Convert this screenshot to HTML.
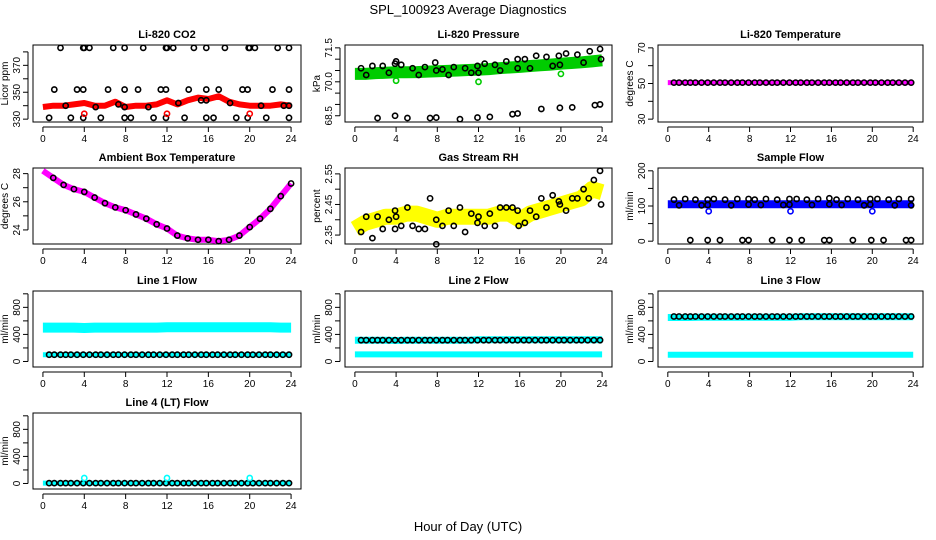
<!DOCTYPE html>
<html><head><meta charset="utf-8"><style>
html,body{margin:0;padding:0;background:#fff;}
svg{display:block;font-family:"Liberation Sans",Arial,sans-serif;}
</style></head><body>
<svg id="chart" width="936" height="540" viewBox="0 0 936 540">
<text x="468" y="14" text-anchor="middle" font-size="13">SPL_100923  Average Diagnostics</text>
<text x="468" y="531" text-anchor="middle" font-size="13">Hour of Day (UTC)</text>
</svg>
<script>
// ---- data ----
const hours = [0,1,2,3,4,5,6,7,8,9,10,11,12,13,14,15,16,17,18,19,20,21,22,23,24];
const xTicks = [0,4,8,12,16,20,24];
const circleHours = [0.6,1.1,1.7,2.2,2.7,3.3,3.9,4.5,5.1,5.6,6.2,6.8,7.3,7.9,8.5,9.0,9.6,10.2,10.7,11.3,11.9,12.5,13.0,13.6,14.1,14.7,15.3,15.8,16.4,16.9,17.5,18.1,18.6,19.2,19.8,20.3,20.9,21.5,22.0,22.6,23.2,23.8];

const co2Band = [339,340,340,341,342,340,340,343,339,340,340,341,344,341,344,346,345,347,343,341,340,340,340,341,340];
const co2TopH = [1.7,3.9,4.0,4.5,6.8,7.9,9.7,11.9,12.0,12.6,14.6,15.8,17.6,19.9,20.0,20.5,22.7,23.8];
const co2MidH = [1.1,3.3,3.9,6.3,7.9,9.2,11.4,11.9,14.1,15.8,17.0,19.3,19.8,22.2,23.8];
const co2LowH = [0.6,2.7,3.9,5.6,7.9,8.5,10.7,11.9,13.7,15.8,16.5,18.7,19.8,21.6,23.8];
const co2InH = [2.2,5.1,7.3,7.9,10.2,13.1,15.3,15.8,18.1,21.1,23.3,23.8];
const co2InV = [340,339,341,339,339,342,344,344,342,340,340,340];
const co2RedH = [4,12,20];
const co2RedV = [334,334,334];

const presBand = [70.35,70.35,70.38,70.40,70.42,70.42,70.43,70.45,70.47,70.48,70.50,70.52,70.54,70.56,70.60,70.63,70.66,70.70,70.73,70.76,70.80,70.83,70.86,70.90,70.95];
const presHiH = [0.6,1.1,1.7,2.7,3.3,3.9,4.0,4.5,5.6,6.2,6.8,7.8,7.9,8.5,9.1,9.6,10.7,11.3,11.9,12.0,12.6,13.6,14.1,14.7,15.8,15.8,16.5,17.0,17.6,18.6,19.2,19.8,19.9,20.5,21.6,22.2,22.8,23.8,23.9];
const presHiV = [70.6,70.3,70.7,70.7,70.4,70.8,70.9,70.75,70.6,70.3,70.65,70.85,70.5,70.55,70.3,70.65,70.6,70.4,70.7,70.4,70.8,70.75,70.5,70.9,71.0,70.6,71.0,70.6,71.15,71.1,70.7,71.15,70.75,71.25,71.2,70.85,71.35,71.45,71.0];
const presLoH = [2.2,3.9,5.1,7.3,7.9,10.2,11.9,13.1,15.3,15.8,18.1,19.9,21.1,23.3,23.8];
const presLoV = [68.4,68.5,68.4,68.4,68.42,68.35,68.42,68.45,68.57,68.6,68.8,68.85,68.87,68.97,69.0];
const presGrH = [4,12,20];
const presGrV = [70.05,70.0,70.35];

const tempBand = [50.5,50.5,50.5,50.5,50.5,50.5,50.5,50.5,50.5,50.5,50.5,50.5,50.5,50.5,50.5,50.5,50.5,50.5,50.5,50.5,50.5,50.5,50.5,50.5,50.5];

const ambBand = [28.2,27.7,27.2,26.9,26.7,26.3,25.9,25.6,25.4,25.1,24.8,24.4,24.1,23.6,23.4,23.3,23.3,23.2,23.3,23.6,24.2,24.8,25.5,26.4,27.3];

const rhBand = [2.37,2.39,2.40,2.41,2.41,2.42,2.42,2.41,2.40,2.41,2.41,2.41,2.41,2.41,2.42,2.42,2.40,2.42,2.43,2.44,2.45,2.46,2.47,2.50,2.49];
const rhH = [0.6,1.1,1.7,2.2,2.7,3.3,3.9,3.9,4.0,4.5,5.1,5.6,6.2,6.8,7.3,7.9,7.9,8.5,9.1,9.6,10.2,10.7,11.3,11.9,12.0,12.6,13.1,13.6,14.1,14.7,15.3,15.8,15.9,16.5,17.0,17.6,18.1,18.6,19.2,19.8,19.9,20.5,21.1,21.6,22.2,22.7,23.2,23.8,23.9];
const rhV = [2.36,2.41,2.34,2.41,2.37,2.40,2.43,2.37,2.41,2.38,2.44,2.38,2.37,2.37,2.47,2.40,2.32,2.38,2.43,2.38,2.44,2.36,2.42,2.39,2.41,2.38,2.42,2.38,2.44,2.44,2.44,2.43,2.38,2.39,2.43,2.41,2.47,2.44,2.48,2.46,2.45,2.43,2.47,2.47,2.50,2.47,2.53,2.56,2.45];

const sfBand = [105,105,105,105,105,105,105,105,105,105,105,105,105,105,105,105,105,105,105,105,105,105,105,105,105];
const sfHiH = [0.6,1.7,2.7,3.9,4.5,5.6,6.8,7.9,8.5,9.6,10.7,11.9,12.6,13.6,14.7,15.8,16.5,17.6,18.6,19.8,20.5,21.6,22.6,23.8];
const sfHiV = [118,120,118,118,120,118,120,120,118,120,118,120,120,118,120,122,118,120,118,120,120,118,120,120];
const sfMidH = [1.1,3.3,3.9,6.2,7.9,9.1,11.3,11.9,14.1,15.8,17.0,19.2,19.8,22.2,23.8];
const sfMidV = [102,102,103,102,104,103,103,104,103,105,103,102,104,102,102];
const sfZeroH = [2.2,3.9,5.1,7.3,7.9,10.2,11.9,13.1,15.3,15.8,18.1,19.9,21.1,23.3,23.8];
const sfBlueH = [4,12,20];
const sfBlueV = [85,85,85];

const l1High = [500,500,500,500,495,500,500,500,500,500,500,500,505,505,505,505,505,505,505,505,505,505,505,500,500];
const l1Low = [100,100,100,100,100,100,100,100,100,100,100,100,100,100,100,100,100,100,100,100,100,100,100,100,100];
const l2High = [315,315,315,315,310,315,315,315,315,315,315,315,320,320,320,320,320,320,320,320,320,320,320,320,320];
const l2Low = [105,105,105,105,105,105,105,105,105,105,105,105,105,105,105,105,105,105,105,105,105,105,105,105,105];
const l3High = [650,650,650,655,655,655,655,655,655,655,655,655,655,660,660,660,660,660,660,660,660,660,660,660,660];
const l3Low = [100,100,100,100,100,100,100,100,100,100,100,100,100,100,100,100,100,100,100,100,100,100,100,100,100];
const l4Base = [5,5,5,5,5,5,5,5,5,5,5,5,5,5,5,5,5,5,5,5,5,5,5,5,5];
const l4OutH = [4,12,20];
const l4OutV = [80,80,80];

// ---- drawing ----
const svg = document.getElementById('chart');
const NS = 'http://www.w3.org/2000/svg';
function mk(tag, attrs, parent){
  const e = document.createElementNS(NS, tag);
  for (const k in attrs) e.setAttribute(k, attrs[k]);
  (parent||svg).appendChild(e);
  return e;
}
const cols = [[33,301],[345,612],[658,923]];
const rows = [[45,122],[168,244],[291,367],[413,489]];

function panel(c, r, title, ylab, vmin, vmax, ticks, labels, slug){
  const [L,R] = cols[c], [T,B] = rows[r];
  const g = mk('g', {});
  
  
  const pw = (R-L)/25.92;
  const xs = h => L + (0.96 + h) * pw;
  const ph = (B-T)/((vmax-vmin)*1.08);
  const ys = v => B - (0.04*(vmax-vmin) + v - vmin) * ph;
  const box = mk('rect', {x:L, y:T, width:R-L, height:B-T, fill:'none', stroke:'#000', 'stroke-width':1}, g);
  
  
  const t = mk('text', {x:(L+R)/2, y:T-7, 'text-anchor':'middle', 'font-size':11, 'font-weight':'bold'}, g);
  t.textContent = title;
  
  
  const xa = mk('g', {}, g);
  
  
  mk('line', {x1:xs(0), x2:xs(24), y1:B+5, y2:B+5, stroke:'#000'}, xa);
  xTicks.forEach(h => {
    mk('line', {x1:xs(h), x2:xs(h), y1:B+5, y2:B+10, stroke:'#000'}, xa);
    const tl = mk('text', {x:xs(h), y:B+20, 'text-anchor':'middle', 'font-size':10}, xa);
    tl.textContent = h;
  });
  const ya = mk('g', {}, g);
  
  
  mk('line', {x1:L-5, x2:L-5, y1:ys(ticks[0]), y2:ys(ticks[ticks.length-1]), stroke:'#000'}, ya);
  ticks.forEach((v,i) => {
    mk('line', {x1:L-5, x2:L-10, y1:ys(v), y2:ys(v), stroke:'#000'}, ya);
    if (labels[i] !== '') {
      const tl = mk('text', {x:L-13, y:ys(v), 'text-anchor':'middle', 'font-size':10, transform:`rotate(-90 ${L-13} ${ys(v)})`}, ya);
      tl.textContent = labels[i];
    }
  });
  const yl = mk('text', {x:L-25, y:(T+B)/2, 'text-anchor':'middle', 'font-size':10, transform:`rotate(-90 ${L-25} ${(T+B)/2})`}, g);
  yl.textContent = ylab;
  
  
  return {g, xs, ys};
}
function band(p, vals, color, width, name){
  const pts = hours.map((h,i) => p.xs(h).toFixed(1) + ',' + p.ys(vals[i]).toFixed(1)).join(' ');
  const e = mk('polyline', {points:pts, fill:'none', stroke:color, 'stroke-width':width, 'stroke-linejoin':'round', 'stroke-linecap':'butt'}, p.g);
  
  
}
function pts(p, hs, vs, color, name){
  const g = mk('g', {}, p.g);
  
  
  hs.forEach((h,i) => {
    const v = Array.isArray(vs) ? vs[i] : vs;
    mk('circle', {cx:p.xs(h), cy:p.ys(v), r:2.6, fill:'none', stroke:color, 'stroke-width':1.6}, g);
  });
}

let p = panel(0,0,'Li-820 CO2','Licor ppm',330,383,[330,340,350,360,370,380],['330','','350','','370',''],'co2');
band(p, co2Band, '#ff0000', 6, 'co2-series');
pts(p, co2TopH, 383, '#000', 'co2-high-points');
pts(p, co2MidH, 352, '#000', 'co2-mid-points');
pts(p, co2LowH, 331, '#000', 'co2-low-points');
pts(p, co2InH, co2InV, '#000', 'co2-inner-points');
pts(p, co2RedH, co2RedV, '#ff0000', 'co2-red-points');

p = panel(1,0,'Li-820 Pressure','kPa',68.35,71.5,[68.5,69,69.5,70,70.5,71,71.5],['68.5','','','70.0','','','71.5'],'pressure');
band(p, presBand, '#00cc00', 12, 'pressure-series');
pts(p, presHiH, presHiV, '#000', 'pressure-high-points');
pts(p, presLoH, presLoV, '#000', 'pressure-low-points');
pts(p, presGrH, presGrV, '#00cc00', 'pressure-green-points');

p = panel(2,0,'Li-820 Temperature','degrees C',30,70,[30,40,50,60,70],['30','','50','','70'],'li820-temp');
band(p, tempBand, '#ff00ff', 5, 'li820-temp-series');
pts(p, circleHours, 50.5, '#000', 'li820-temp-points');

p = panel(0,1,'Ambient Box Temperature','degrees C',23.2,28.2,[24,25,26,27,28],['24','','26','','28'],'ambient');
band(p, ambBand, '#ff00ff', 6, 'ambient-series');
pts(p, hours.slice(1), ambBand.slice(1), '#000', 'ambient-points');

p = panel(1,1,'Gas Stream RH','percent',2.33,2.56,[2.35,2.40,2.45,2.50,2.55],['2.35','','2.45','','2.55'],'rh');
band(p, rhBand, '#ffff00', 16, 'rh-series');
pts(p, rhH, rhV, '#000', 'rh-points');

p = panel(2,1,'Sample Flow','ml/min',0,200,[0,50,100,150,200],['0','','100','','200'],'sample-flow');
band(p, sfBand, '#0000ff', 8, 'sample-flow-series');
pts(p, sfHiH, sfHiV, '#000', 'sample-flow-high-points');
pts(p, sfMidH, sfMidV, '#000', 'sample-flow-mid-points');
pts(p, sfZeroH, 3, '#000', 'sample-flow-zero-points');
pts(p, sfBlueH, sfBlueV, '#0000ff', 'sample-flow-blue-points');

const fT = [0,200,400,600,800,1000], fL = ['0','','400','','800',''];
p = panel(0,2,'Line 1 Flow','ml/min',-40,1000,fT,fL,'line1');
band(p, l1High, '#00ffff', 10, 'line1-high-series');
band(p, l1Low, '#00ffff', 5, 'line1-low-series');
pts(p, circleHours, 100, '#000', 'line1-points');
p = panel(1,2,'Line 2 Flow','ml/min',-40,1000,fT,fL,'line2');
band(p, l2High, '#00ffff', 7, 'line2-high-series');
band(p, l2Low, '#00ffff', 6, 'line2-low-series');
pts(p, circleHours, 315, '#000', 'line2-points');
p = panel(2,2,'Line 3 Flow','ml/min',-40,1000,fT,fL,'line3');
band(p, l3High, '#00ffff', 7, 'line3-high-series');
band(p, l3Low, '#00ffff', 6, 'line3-low-series');
pts(p, circleHours, 665, '#000', 'line3-points');
p = panel(0,3,'Line 4 (LT) Flow','ml/min',-40,1000,fT,fL,'line4');
band(p, l4Base, '#00ffff', 5, 'line4-series');
pts(p, circleHours, 5, '#000', 'line4-points');
pts(p, l4OutH, l4OutV, '#00ffff', 'line4-outlier-points');
</script>
</body></html>
